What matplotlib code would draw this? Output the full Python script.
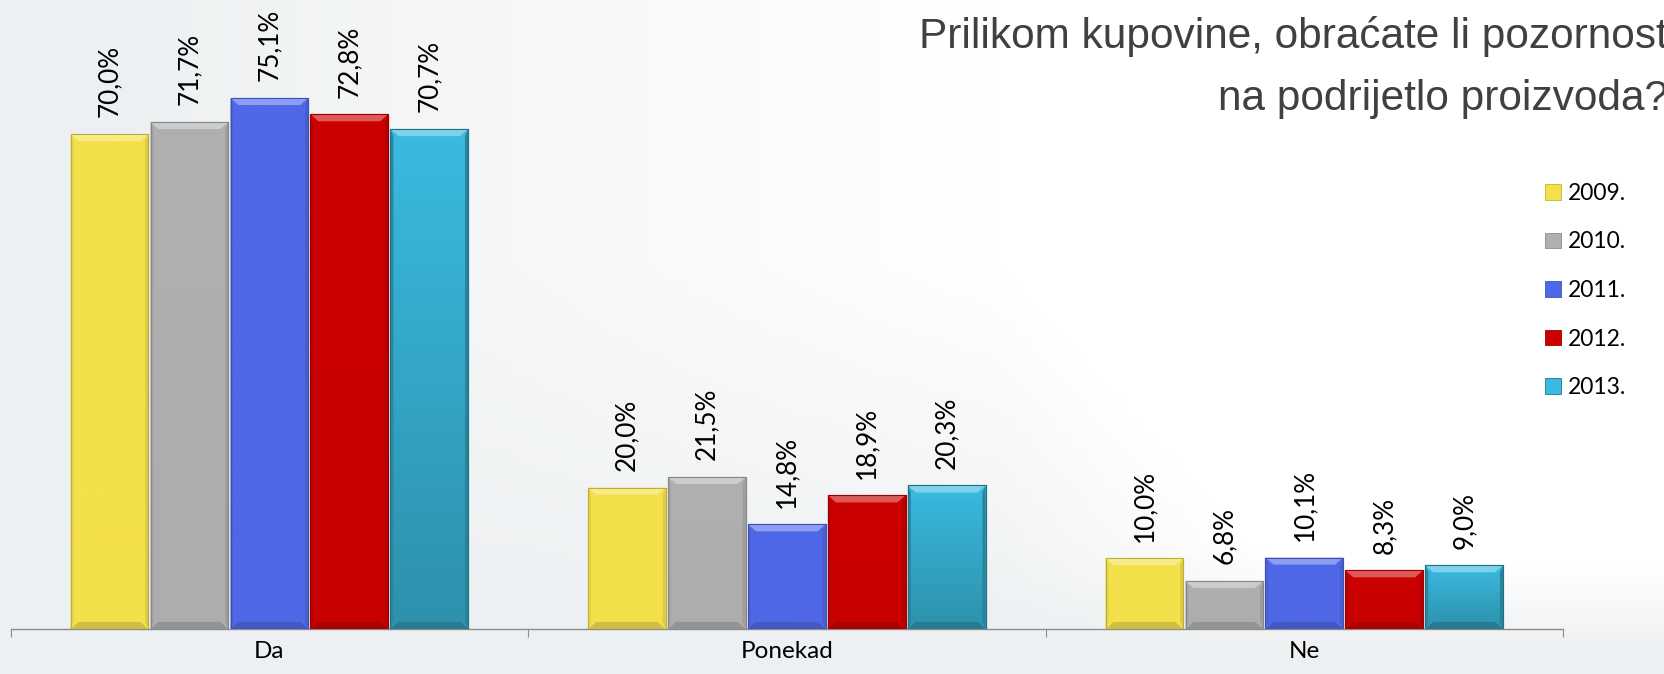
import numpy as np
import matplotlib
matplotlib.use("Agg")
import matplotlib.pyplot as plt
from matplotlib.patches import Polygon, Patch
import matplotlib.colors as mcolors

# ---------------- data ----------------
categories = ["Da", "Ponekad", "Ne"]
years = ["2009.", "2010.", "2011.", "2012.", "2013."]
v2009 = [70.0, 20.0, 10.0]
v2010 = [71.7, 21.5, 6.8]
v2011 = [75.1, 14.8, 10.1]
v2012 = [72.8, 18.9, 8.3]
v2013 = [70.7, 20.3, 9.0]
series = [v2009, v2010, v2011, v2012, v2013]
title_lines = ["Prilikom kupovine, obraćate li pozornost", "na podrijetlo proizvoda?"]

colors = ["#F4E04A", "#B0B0B0", "#5068E8", "#CC0000", "#3ABAE0"]
bottom_colors = ["#F4E04A", "#ADADAD", "#4F68E6", "#C80000", "#2D91AC"]

W, H = 1665, 674
fig = plt.figure(figsize=(W / 100, H / 100), dpi=100)

# background gradient
bg = fig.add_axes([0, 0, 1, 1], zorder=-10)
bg.set_axis_off()
xx = np.linspace(0, 1, 300)[None, :]
yy = np.linspace(0, 1, 120)[:, None]
c_left = np.array(mcolors.to_rgb("#EDF0F2"))
c_white = np.array([1.0, 1.0, 1.0])
t = np.clip((xx - 0.05) / 0.55, 0, 1) * np.clip((yy - 0.05) * 1.8, 0, 1)
t = np.clip(t + np.clip((xx - 0.6) / 0.2, 0, 1) * np.clip((yy - 0.02) * 6, 0, 1), 0, 1)
img = c_left[None, None, :] * (1 - t[..., None]) + c_white[None, None, :] * t[..., None]
bg.imshow(img, extent=[0, 1, 0, 1], aspect="auto", origin="lower")
bg.set_xlim(0, 1)
bg.set_ylim(0, 1)

lab_font = ["Lato", "DejaVu Sans"]

ax = fig.add_axes([10.6 / W, (H - 629) / H, (1563 - 10.6) / W, 629 / H])
ax.patch.set_alpha(0)
ax.set_xlim(-0.5, 2.5)
ax.set_ylim(0, 629 / 7.07)

x = np.arange(len(categories))
step = 0.1545
bw = 0.150
px_per_x = (1563 - 10.6) / 3.0
px_per_y = 7.07
dx = 8 / px_per_x
dy = 7 / px_per_y
sdx = 3 / px_per_x

for i, (vals, col, bcol) in enumerate(zip(series, colors, bottom_colors)):
    pos = x + (i - 2) * step
    base = np.array(mcolors.to_rgb(col))
    bbase = np.array(mcolors.to_rgb(bcol))
    edge = mcolors.to_hex(bbase * 0.78)
    bars = ax.bar(pos, vals, width=bw, color=col, edgecolor=edge,
                  linewidth=0.8, zorder=3, label=years[i])
    light = np.clip(base + (1 - base) * 0.35, 0, 1)
    dark = bbase * 0.85
    for r in bars:
        x0, w, h = r.get_x(), r.get_width(), r.get_height()
        grad = np.linspace(0, 1, 64)[:, None, None]
        gimg = bbase[None, None, :] * (1 - grad) + base[None, None, :] * grad
        im = ax.imshow(gimg, extent=[x0, x0 + w, 0, h], origin="lower", aspect="auto",
                       zorder=3.5, interpolation="bilinear")
        im.set_clip_path(r)
        # top bevel
        ax.add_patch(Polygon([(x0, h), (x0 + w, h), (x0 + w - dx, h - dy), (x0 + dx, h - dy)],
                             closed=True, facecolor=light, edgecolor="none", zorder=4))
        # bottom bevel
        ax.add_patch(Polygon([(x0, 0), (x0 + w, 0), (x0 + w - dx, dy), (x0 + dx, dy)],
                             closed=True, facecolor=dark, edgecolor="none", zorder=4))
        # side bevels (subtle)
        ax.add_patch(Polygon([(x0 + w, 0), (x0 + w, h), (x0 + w - sdx, h - dy), (x0 + w - sdx, dy)],
                             closed=True, facecolor=bbase * 0.9, edgecolor="none", zorder=4))
        ax.add_patch(Polygon([(x0, 0), (x0, h), (x0 + sdx, h - dy), (x0 + sdx, dy)],
                             closed=True, facecolor=bbase * 0.94, edgecolor="none", zorder=4))
        ax.add_patch(plt.Rectangle((x0, 0), w, h, fill=False, edgecolor=edge, linewidth=0.8, zorder=4.5))
        # label
        ax.annotate(f"{h:.1f}%".replace(".", ","), (x0 + w / 2, h), xytext=(0, 12),
                    textcoords="offset points", rotation=90, ha="center", va="bottom",
                    fontsize=18.8, family=lab_font, color="#000000", zorder=5)

ax.set_xlim(-0.5, 2.5)
ax.set_ylim(0, 629 / 7.07)
for s in ["top", "right", "left"]:
    ax.spines[s].set_visible(False)
ax.spines["bottom"].set_color("#8C8C8C")
ax.spines["bottom"].set_linewidth(1.0)
ax.set_yticks([])
ax.set_xticks([-0.5, 0.5, 1.5, 2.5])
ax.set_xticklabels([])
ax.tick_params(axis="x", length=6, color="#8C8C8C", direction="out")
ax.set_xticks(x, minor=True)
ax.set_xticklabels(categories, minor=True, fontsize=17.5, family=lab_font, color="#000000")
ax.tick_params(axis="x", which="minor", length=0, pad=9)

# legend
handles = [Patch(facecolor=c, edgecolor=mcolors.to_hex(np.array(mcolors.to_rgb(b)) * 0.8), linewidth=0.6)
           for c, b in zip(colors, bottom_colors)]
leg = fig.legend(handles, years, loc="upper left", bbox_to_anchor=(1545 / W, 1 - 183 / H),
                 frameon=False, prop={"family": lab_font, "size": 16.5},
                 handlelength=0.68, handleheight=0.68, handletextpad=0.3, labelspacing=1.2,
                 borderpad=0, borderaxespad=0)

tfont = ["Liberation Sans", "DejaVu Sans"]
fig.text(1.0018, 1 - 48 / H, title_lines[0], ha="right", va="baseline", fontsize=30.5,
         family=tfont, color="#404040")
fig.text(1.0018, 1 - 110 / H, title_lines[1], ha="right", va="baseline", fontsize=30.5,
         family=tfont, color="#404040")

fig.savefig("out.png", dpi=100)
